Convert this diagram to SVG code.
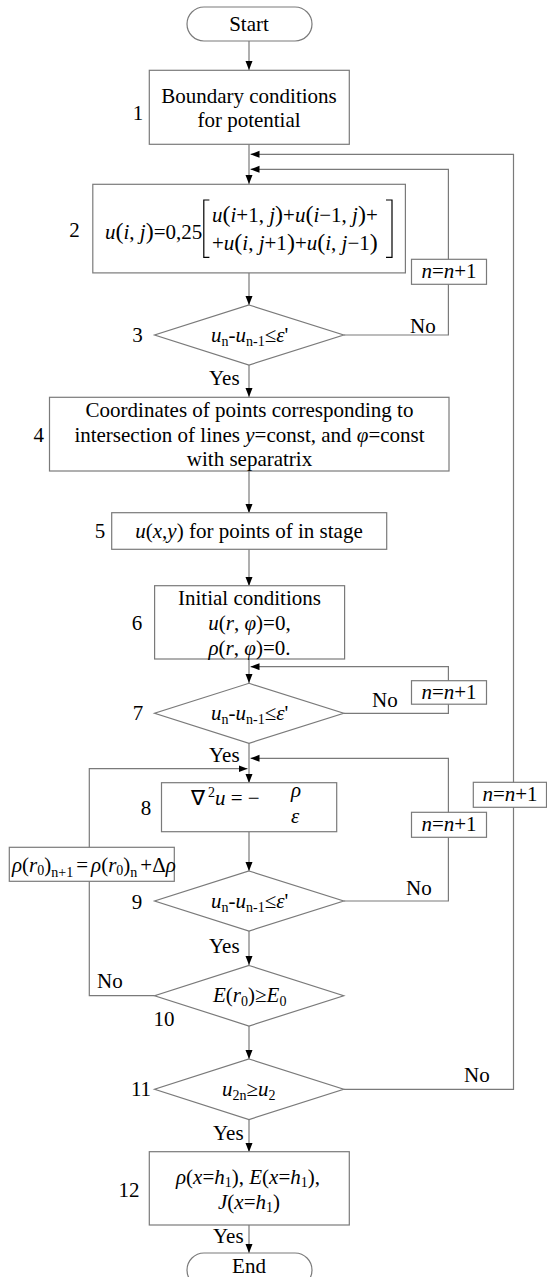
<svg xmlns="http://www.w3.org/2000/svg" width="547" height="1277" viewBox="0 0 547 1277">
  <style>
    .t { font-family: 'Liberation Serif', 'Times New Roman', Times, serif; font-size: 21px; fill: #000; }
    .c { text-anchor: middle; }
    .i { font-style: italic; }
    .s { font-size: 14px; }
    .box { fill: #fff; stroke: #7a7a7a; stroke-width: 1.2; }
    .ln { fill: none; stroke: #7a7a7a; stroke-width: 1.2; }
    .br { fill: none; stroke: #000; stroke-width: 1.2; }
  </style>
  <defs>
    <marker id="arr" markerWidth="9" markerHeight="8" refX="9" refY="3.5" orient="auto" markerUnits="userSpaceOnUse">
      <path d="M0,0 L9,3.5 L0,7 z" fill="#000"/>
    </marker>
  </defs>
  <rect width="547" height="1277" fill="#fff"/>

  <!-- connectors -->
  <g id="connectors">
    <path class="ln" d="M249,41 V70" marker-end="url(#arr)"/>
    <path class="ln" d="M249,144 V184" marker-end="url(#arr)"/>
    <path class="ln" d="M249,273 V305" marker-end="url(#arr)"/>
    <path class="ln" d="M249,365 V397" marker-end="url(#arr)"/>
    <path class="ln" d="M249,471 V513" marker-end="url(#arr)"/>
    <path class="ln" d="M249,549 V586" marker-end="url(#arr)"/>
    <path class="ln" d="M249,659 V683" marker-end="url(#arr)"/>
    <path class="ln" d="M249,743 V783" marker-end="url(#arr)"/>
    <path class="ln" d="M249,832 V871" marker-end="url(#arr)"/>
    <path class="ln" d="M249,931 V965" marker-end="url(#arr)"/>
    <path class="ln" d="M249,1026 V1059" marker-end="url(#arr)"/>
    <path class="ln" d="M249,1119 V1152" marker-end="url(#arr)"/>
    <path class="ln" d="M249,1225 V1253" marker-end="url(#arr)"/>
    <!-- iteration loops back to the main line -->
    <path class="ln" d="M343.7,335 H448.4 V169.3 H250.5" marker-end="url(#arr)"/>
    <path class="ln" d="M343.7,713.3 H448.4 V666.7 H250.5" marker-end="url(#arr)"/>
    <path class="ln" d="M343.7,901 H448.4 V758.3 H250.5" marker-end="url(#arr)"/>
    <path class="ln" d="M343.7,1089.3 H513.5 V154.3 H250.5" marker-end="url(#arr)"/>
    <path class="ln" d="M154.6,995.7 H89.3 V768.7 H247.5" marker-end="url(#arr)"/>
    <!-- branch labels -->
    <text class="t" x="209" y="385">Yes</text>
    <text class="t" x="410" y="333">No</text>
    <text class="t" x="372" y="707">No</text>
    <text class="t" x="209" y="762">Yes</text>
    <text class="t" x="406" y="895">No</text>
    <text class="t" x="209" y="953">Yes</text>
    <text class="t" x="97" y="988">No</text>
    <text class="t" x="464" y="1082">No</text>
    <text class="t" x="213" y="1140">Yes</text>
    <text class="t" x="213" y="1243">Yes</text>
  </g>

  <g id="start">
    <rect class="box" x="187" y="7" width="125" height="34" rx="17"/>
    <text class="t c" x="249" y="31">Start</text>
  </g>

  <g id="step1">
    <rect class="box" x="149.3" y="70.3" width="200" height="74"/>
    <text class="t c" x="249" y="103">Boundary conditions</text>
    <text class="t c" x="249" y="127">for potential</text>
    <text class="t c" x="138" y="120">1</text>
  </g>

  <g id="step2">
    <rect class="box" x="92.8" y="184.3" width="312.6" height="88.6"/>
    <text class="t c" x="74.5" y="237">2</text>
    <text class="t" x="105" y="239"><tspan class="i">u</tspan><tspan font-size="24">(</tspan><tspan class="i">i</tspan>, <tspan class="i">j</tspan><tspan font-size="24">)</tspan>=0,25</text>
    <path class="br" d="M209.4,200 H203.8 V257.3 H209.4"/>
    <path class="br" d="M386,200 H392 V257.3 H386"/>
    <text class="t" x="212" y="222"><tspan class="i">u</tspan><tspan font-size="24">(</tspan><tspan class="i">i</tspan>+1, <tspan class="i">j</tspan><tspan font-size="24">)</tspan>+<tspan class="i">u</tspan><tspan font-size="24">(</tspan><tspan class="i">i</tspan>−1, <tspan class="i">j</tspan><tspan font-size="24">)</tspan>+</text>
    <text class="t" x="212" y="250">+<tspan class="i">u</tspan><tspan font-size="24">(</tspan><tspan class="i">i</tspan>, <tspan class="i">j</tspan>+1<tspan font-size="24">)</tspan>+<tspan class="i">u</tspan><tspan font-size="24">(</tspan><tspan class="i">i</tspan>, <tspan class="i">j</tspan>−1<tspan font-size="24">)</tspan></text>
  </g>

  <g id="counter1">
    <rect class="box" x="411.5" y="259.3" width="75" height="25"/>
    <text class="t c" x="449" y="278"><tspan class="i">n</tspan>=<tspan class="i">n</tspan>+1</text>
  </g>

  <g id="check3">
    <polygon class="box" points="249,305 343.7,335 249,365 154.6,335"/>
    <text class="t c" x="137.5" y="342">3</text>
    <text class="t" x="211" y="342"><tspan class="i">u</tspan><tspan class="s" dy="4">n</tspan><tspan dy="-4">-</tspan><tspan class="i">u</tspan><tspan class="s" dy="4">n-1</tspan><tspan dy="-4">≤</tspan><tspan class="i">ε</tspan>'</text>
  </g>

  <g id="step4">
    <rect class="box" x="49.5" y="397.3" width="399.5" height="73.7"/>
    <text class="t c" x="38.8" y="442">4</text>
    <text class="t c" x="249.5" y="417">Coordinates of points corresponding to</text>
    <text class="t c" x="249.5" y="442">intersection of lines <tspan class="i">y</tspan>=const, and <tspan class="i">φ</tspan>=const</text>
    <text class="t c" x="249.5" y="466">with separatrix</text>
  </g>

  <g id="step5">
    <rect class="box" x="111.7" y="512.7" width="275" height="36.6"/>
    <text class="t c" x="100" y="538">5</text>
    <text class="t c" x="249" y="538"><tspan class="i">u</tspan>(<tspan class="i">x</tspan>,<tspan class="i">y</tspan>) for points of in stage</text>
  </g>

  <g id="step6">
    <rect class="box" x="154.6" y="585.7" width="190" height="73.3"/>
    <text class="t c" x="137" y="630">6</text>
    <text class="t c" x="249.5" y="605">Initial conditions</text>
    <text class="t c" x="249.5" y="630"><tspan class="i">u</tspan>(<tspan class="i">r</tspan>, <tspan class="i">φ</tspan>)=0,</text>
    <text class="t c" x="249.5" y="655"><tspan class="i">ρ</tspan>(<tspan class="i">r</tspan>, <tspan class="i">φ</tspan>)=0.</text>
  </g>

  <g id="counter2">
    <rect class="box" x="411.5" y="680.7" width="75" height="23.5"/>
    <text class="t c" x="449" y="699"><tspan class="i">n</tspan>=<tspan class="i">n</tspan>+1</text>
  </g>

  <g id="check7">
    <polygon class="box" points="249,683.3 343.7,713.3 249,743.3 154.6,713.3"/>
    <text class="t c" x="138" y="720">7</text>
    <text class="t" x="211" y="720"><tspan class="i">u</tspan><tspan class="s" dy="4">n</tspan><tspan dy="-4">-</tspan><tspan class="i">u</tspan><tspan class="s" dy="4">n-1</tspan><tspan dy="-4">≤</tspan><tspan class="i">ε</tspan>'</text>
  </g>

  <g id="step8">
    <rect class="box" x="161.5" y="782.7" width="175.2" height="49"/>
    <text class="t c" x="146" y="815">8</text>
    <text class="t" x="191" y="805">∇<tspan class="s" dx="3" dy="-8">2</tspan><tspan class="i" dy="8">u</tspan> = −</text>
    <text class="t i" x="291" y="797">ρ</text>
    <text class="t i" x="291" y="823">ε</text>
  </g>

  <g id="counter3">
    <rect class="box" x="411.5" y="812.3" width="75" height="25"/>
    <text class="t c" x="449" y="831"><tspan class="i">n</tspan>=<tspan class="i">n</tspan>+1</text>
  </g>

  <g id="counter4">
    <rect class="box" x="473.3" y="782.3" width="73.2" height="25"/>
    <text class="t c" x="510" y="801"><tspan class="i">n</tspan>=<tspan class="i">n</tspan>+1</text>
  </g>

  <g id="density-step">
    <rect class="box" x="9.3" y="847.3" width="165" height="34"/>
    <text class="t" x="12" y="872" font-size="20"><tspan class="i">ρ</tspan>(<tspan class="i">r</tspan><tspan class="s" dy="3">0</tspan><tspan dy="-3">)</tspan><tspan class="s" dy="5">n+1</tspan><tspan dx="3" dy="-5">=</tspan><tspan class="i" dx="3">ρ</tspan>(<tspan class="i">r</tspan><tspan class="s" dy="3">0</tspan><tspan dy="-3">)</tspan><tspan class="s" dy="5">n</tspan><tspan dx="3" dy="-5">+Δ</tspan><tspan class="i">ρ</tspan></text>
  </g>

  <g id="check9">
    <polygon class="box" points="249,871 343.7,901 249,931 154.6,901"/>
    <text class="t c" x="137" y="909">9</text>
    <text class="t" x="211" y="908"><tspan class="i">u</tspan><tspan class="s" dy="4">n</tspan><tspan dy="-4">-</tspan><tspan class="i">u</tspan><tspan class="s" dy="4">n-1</tspan><tspan dy="-4">≤</tspan><tspan class="i">ε</tspan>'</text>
  </g>

  <g id="check10">
    <polygon class="box" points="249,965.5 343.7,995.7 249,1026 154.6,995.7"/>
    <text class="t c" x="164" y="1026">10</text>
    <text class="t" x="213" y="1002"><tspan class="i">E</tspan>(<tspan class="i">r</tspan><tspan class="s" dy="4">0</tspan><tspan dy="-4">)≥</tspan><tspan class="i">E</tspan><tspan class="s" dy="4">0</tspan></text>
  </g>

  <g id="check11">
    <polygon class="box" points="249,1059 343.7,1089.3 249,1119.5 154.6,1089.3"/>
    <text class="t c" x="141" y="1096">11</text>
    <text class="t" x="222" y="1096"><tspan class="i">u</tspan><tspan class="s" dy="4">2n</tspan><tspan dy="-4">≥</tspan><tspan class="i">u</tspan><tspan class="s" dy="4">2</tspan></text>
  </g>

  <g id="step12">
    <rect class="box" x="149.3" y="1151.7" width="200" height="73.3"/>
    <text class="t c" x="129" y="1197">12</text>
    <text class="t c" x="248" y="1184"><tspan class="i">ρ</tspan>(<tspan class="i">x</tspan>=<tspan class="i">h</tspan><tspan class="s" dy="3">1</tspan><tspan dy="-3">), </tspan><tspan class="i">E</tspan>(<tspan class="i">x</tspan>=<tspan class="i">h</tspan><tspan class="s" dy="3">1</tspan><tspan dy="-3">),</tspan></text>
    <text class="t c" x="249" y="1209"><tspan class="i">J</tspan>(<tspan class="i">x</tspan>=<tspan class="i">h</tspan><tspan class="s" dy="3">1</tspan><tspan dy="-3">)</tspan></text>
  </g>

  <g id="end">
    <rect class="box" x="187" y="1253" width="125" height="34" rx="17"/>
    <text class="t c" x="249" y="1273">End</text>
  </g>
</svg>
